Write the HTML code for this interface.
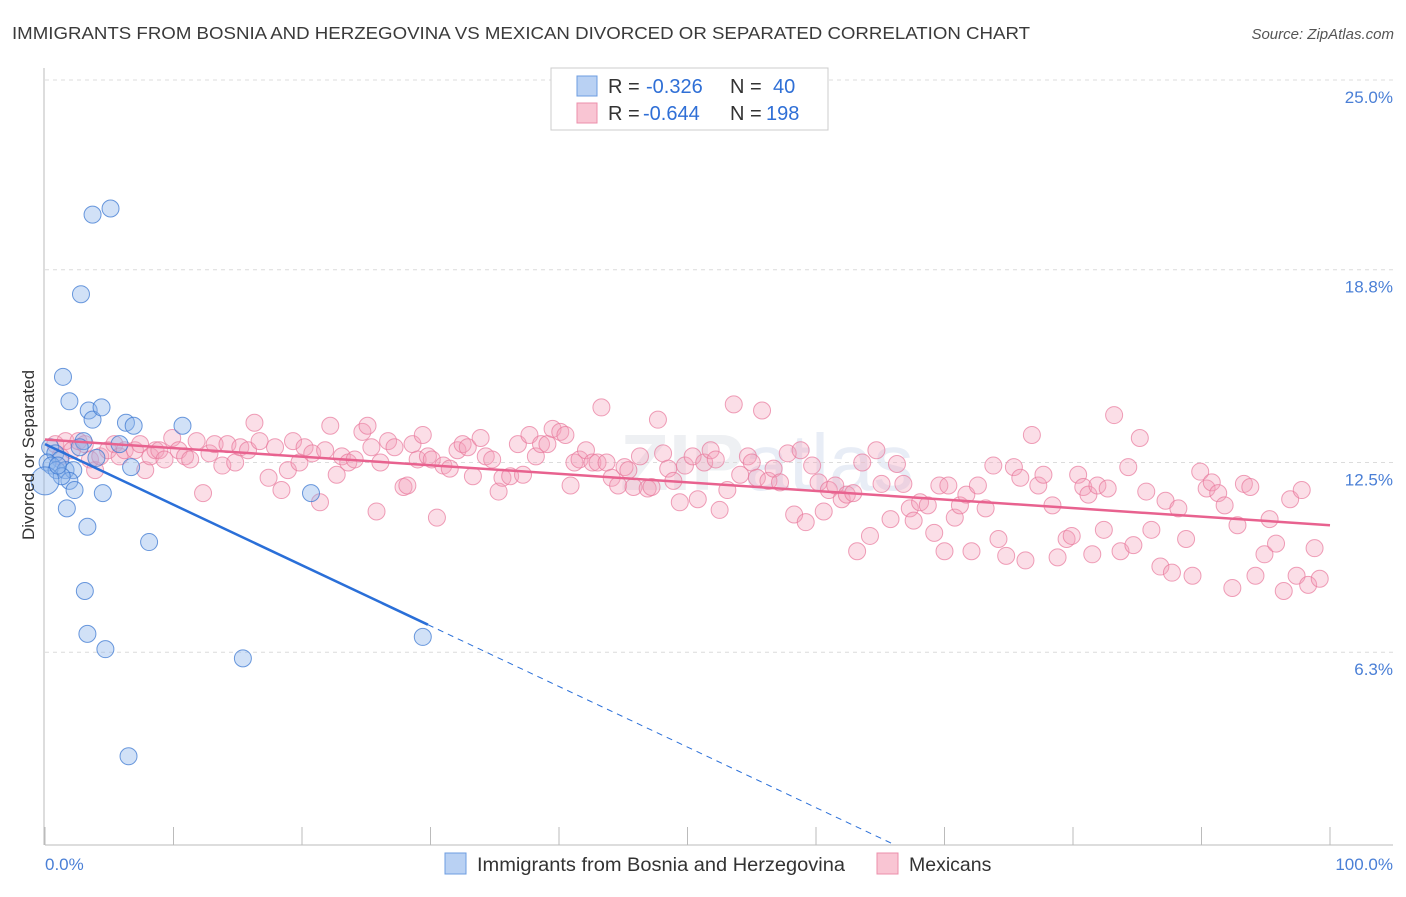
<!DOCTYPE html>
<html><head><meta charset="utf-8"><style>
body{margin:0;background:#fff;font-family:"Liberation Sans",sans-serif;}
svg text{font-family:"Liberation Sans",sans-serif;}
</style></head><body>
<svg id="c" width="1406" height="892" xmlns="http://www.w3.org/2000/svg">
<text x="12" y="39" font-size="17.5" fill="#3a3a3a" textLength="1018" lengthAdjust="spacingAndGlyphs">IMMIGRANTS FROM BOSNIA AND HERZEGOVINA VS MEXICAN DIVORCED OR SEPARATED CORRELATION CHART</text>
<text x="1394" y="39" font-size="15" fill="#555" font-style="italic" text-anchor="end">Source: ZipAtlas.com</text>
<text x="620" y="490" font-size="80" fill="#eef0f3" font-weight="bold">ZIP<tspan font-weight="normal" fill="#e8edf6">atlas</tspan></text>
<g id="grid"></g>
<g id="axes"></g>
<g id="pts"></g>
<g id="lines"></g>
<text transform="translate(34,455) rotate(-90)" font-size="17" fill="#333" text-anchor="middle">Divorced or Separated</text>
<text x="45" y="870" font-size="17" fill="#4a7fd6">0.0%</text>
<text x="1393" y="870" font-size="17" fill="#4a7fd6" text-anchor="end">100.0%</text>
<g>
<rect x="551" y="68" width="277" height="62" fill="#fff" stroke="#ccc"/>
<rect x="577" y="76" width="20" height="20" fill="#b9d1f3" stroke="#6d9de0"/>
<rect x="577" y="103" width="20" height="20" fill="#f9c5d3" stroke="#ec8fab"/>
<text x="608" y="93" font-size="20" fill="#333">R =<tspan x="646" fill="#2f6fd6">-0.326</tspan><tspan x="730">N =</tspan><tspan x="773" fill="#2f6fd6">40</tspan></text>
<text x="608" y="120" font-size="20" fill="#333">R =<tspan x="643" fill="#2f6fd6">-0.644</tspan><tspan x="730">N =</tspan><tspan x="766" fill="#2f6fd6">198</tspan></text>
</g>
<g>
<rect x="445" y="853" width="21" height="21" fill="#b9d1f3" stroke="#6d9de0"/>
<text x="477" y="871" font-size="19" fill="#333" textLength="368" lengthAdjust="spacingAndGlyphs">Immigrants from Bosnia and Herzegovina</text>
<rect x="877" y="853" width="21" height="21" fill="#f9c5d3" stroke="#ec8fab"/>
<text x="909" y="871" font-size="19.5" fill="#333">Mexicans</text>
</g>
</svg>
<script>
const yTicks=[25.0,18.8,12.5,6.3];
const yTickLabels=["25.0%","18.8%","12.5%","6.3%"];
const xTickCount=10;
const blueX=[3.7,5.1,2.8,1.4,1.9,3.4,3.7,4.4,6.3,6.9,10.7,0.4,0.8,1.2,0.2,0.5,0.9,1.6,2.2,1.9,2.3,1.3,3.0,5.8,6.7,4.0,4.5,20.7,1.7,3.3,8.1,3.1,3.3,4.7,15.4,29.4,6.5,0.0,1.0,2.7];
const blueY=[20.6,20.8,18.0,15.3,14.5,14.2,13.9,14.3,13.8,13.7,13.7,13.0,12.8,12.6,12.5,12.4,12.25,12.25,12.25,11.9,11.6,12.05,13.2,13.1,12.35,12.65,11.5,11.5,11.0,10.4,9.9,8.3,6.9,6.4,6.1,6.8,2.9,11.9,12.4,13.0];
const pinkX=[0.8,1.2,1.6,2.1,2.6,3.1,3.5,3.9,4.3,4.9,5.4,5.8,6.2,7.0,7.4,7.8,8.2,8.6,8.9,9.3,9.9,10.4,10.9,11.3,11.8,12.3,12.8,13.2,13.8,14.2,14.8,15.2,15.8,16.3,16.7,17.4,17.9,18.4,18.9,19.3,19.8,20.2,20.8,21.4,21.8,22.2,22.7,23.1,23.6,24.1,24.7,25.1,25.4,25.8,26.1,26.7,27.2,27.9,28.2,28.6,29.0,29.4,29.8,30.1,30.5,31.0,31.5,32.1,32.5,32.9,33.3,33.9,34.3,34.8,35.3,35.6,36.2,36.8,37.2,37.7,38.2,38.6,39.1,39.5,40.1,40.5,40.9,41.2,41.6,42.1,42.6,43.0,43.3,43.7,44.1,44.6,45.1,45.4,45.8,46.3,46.9,47.2,47.7,48.1,48.5,48.9,49.4,49.8,50.4,50.8,51.3,51.8,52.2,52.5,53.1,53.6,54.1,54.7,55.0,55.4,55.8,56.3,56.7,57.2,57.8,58.3,58.8,59.2,59.7,60.2,60.6,61.0,61.5,62.0,62.4,62.9,63.2,63.6,64.2,64.7,65.1,65.8,66.3,66.8,67.3,67.6,68.1,68.7,69.2,69.6,70.0,70.3,70.8,71.2,71.7,72.1,72.6,73.2,73.8,74.2,74.8,75.4,75.9,76.3,76.8,77.3,77.7,78.4,78.8,79.5,79.9,80.4,80.8,81.2,81.5,81.9,82.4,82.7,83.2,83.7,84.3,84.7,85.2,85.7,86.1,86.8,87.2,87.7,88.2,88.8,89.3,89.9,90.4,90.8,91.3,91.8,92.4,92.8,93.3,93.8,94.2,94.9,95.3,95.8,96.4,96.9,97.4,97.8,98.3,98.8,99.2];
const pinkY=[13.1,12.7,13.2,12.9,13.2,13.1,12.6,12.25,12.7,12.9,13.1,12.7,12.9,12.9,13.1,12.25,12.7,12.9,12.9,12.6,13.3,12.9,12.7,12.6,13.2,11.5,12.8,13.1,12.4,13.1,12.5,13.0,12.9,13.8,13.2,12.0,13.0,11.6,12.25,13.2,12.5,13.0,12.8,11.2,12.9,13.7,12.1,12.7,12.5,12.6,13.5,13.7,13.0,10.9,12.5,13.2,13.0,11.7,11.75,13.1,12.6,13.4,12.7,12.6,10.7,12.4,12.3,12.9,13.1,13.0,12.05,13.3,12.7,12.6,11.55,12.0,12.05,13.1,12.1,13.4,12.7,13.1,13.1,13.6,13.5,13.4,11.75,12.5,12.6,12.9,12.5,12.5,14.3,12.5,12.0,11.75,12.35,12.25,11.7,12.7,11.65,11.7,13.9,12.8,12.3,11.9,11.2,12.4,12.7,11.3,12.5,12.9,12.6,10.95,11.6,14.4,12.1,12.7,12.5,12.0,14.2,11.9,12.3,11.85,12.8,10.8,12.9,10.55,12.4,11.85,10.9,11.6,11.75,11.3,11.45,11.5,9.6,12.5,10.1,12.9,11.8,10.65,12.45,11.8,11.0,10.6,11.2,11.1,10.2,11.75,9.6,11.75,10.7,11.1,11.45,9.6,11.75,11.0,12.4,10.0,9.45,12.35,12.0,9.3,13.4,11.75,12.1,11.1,9.4,10.0,10.1,12.1,11.7,11.45,9.5,11.75,10.3,11.65,14.05,9.6,12.35,9.8,13.3,11.55,10.3,9.1,11.25,8.9,11.0,10.0,8.8,12.2,11.65,11.85,11.5,11.1,8.4,10.45,11.8,11.7,8.8,9.5,10.65,9.85,8.3,11.3,8.8,11.6,8.5,9.7,8.7];
const blueFit=[13.1,-0.198], pinkFit=[13.25,-0.028], blueSolidEnd=29.8;
const X0=45,X1=1330,Y0=845,Y25=80;
const xs=v=>X0+(X1-X0)*v/100, ys=v=>Y0-(Y0-Y25)*v/25;
const NS="http://www.w3.org/2000/svg";
function mk(tag,attrs,parent){const e=document.createElementNS(NS,tag);for(const k in attrs)e.setAttribute(k,attrs[k]);document.getElementById(parent).appendChild(e);return e;}
yTicks.forEach((t,i)=>{
 const g=mk('line',{x1:X0,x2:1393,y1:ys(t),y2:ys(t),stroke:'#dcdcdc','stroke-dasharray':'4,4'},'grid');
 
 
 const l=mk('text',{x:1393,y:ys(t)+23,'font-size':17,fill:'#4a7fd6','text-anchor':'end'},'grid');
 l.textContent=yTickLabels[i];
 
 
});
const ya=mk('line',{x1:44,x2:44,y1:68,y2:Y0,stroke:'#bbb'},'axes');


const xa=mk('line',{x1:X0,x2:1393,y1:Y0,y2:Y0,stroke:'#bbb'},'axes');


for(let i=0;i<=xTickCount;i++){const t=mk('line',{x1:xs(i*100/xTickCount),x2:xs(i*100/xTickCount),y1:827,y2:Y0,stroke:'#bbb'},'axes');
 
 }
pinkX.forEach((x,i)=>{const c=mk('circle',{cx:xs(x),cy:ys(pinkY[i]),r:8.5,fill:'rgba(244,160,185,0.35)',stroke:'rgba(232,120,155,0.7)','stroke-width':1},'pts');
 
 });
blueX.forEach((x,i)=>{const c=mk('circle',{cx:xs(x),cy:ys(blueY[i]),r:i==37?14:8.5,fill:'rgba(140,180,235,0.4)',stroke:'rgba(60,120,210,0.75)','stroke-width':1},'pts');
 
 });
const pl=mk('line',{x1:xs(0),y1:ys(pinkFit[0]),x2:xs(100),y2:ys(pinkFit[0]+pinkFit[1]*100),stroke:'#e8628f','stroke-width':2.5},'lines');


const bl=mk('line',{x1:xs(0),y1:ys(blueFit[0]),x2:xs(blueSolidEnd),y2:ys(blueFit[0]+blueFit[1]*blueSolidEnd),stroke:'#2a6fd8','stroke-width':2.5},'lines');


const xz=-blueFit[0]/blueFit[1];
const bd=mk('line',{x1:xs(blueSolidEnd),y1:ys(blueFit[0]+blueFit[1]*blueSolidEnd),x2:xs(xz),y2:ys(0),stroke:'#2a6fd8','stroke-width':1,'stroke-dasharray':'6,5'},'lines');


</script>
</body></html>
